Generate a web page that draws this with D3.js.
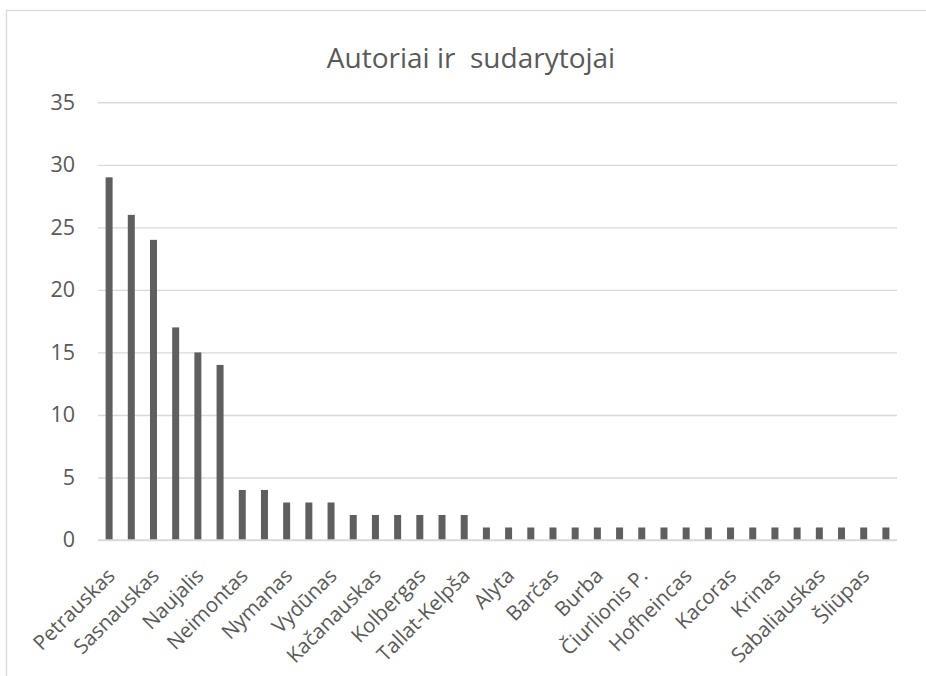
<!DOCTYPE html>
<html>
<head>
<meta charset="utf-8">
<script src="https://cdn.jsdelivr.net/npm/d3@7"></script>
<style>
  html, body { margin: 0; padding: 0; background: #fff; }
  svg { display: block; }
</style>
</head>
<body>
<svg id="chart" width="926" height="676"></svg>
<script>
// Number of works per author / compiler
const authors = [
  "Petrauskas", "Šimkus", "Sasnauskas", "Gruodis", "Naujalis", "Bendorius",
  "Neimontas", "Žilevičius", "Nymanas", "Banaitis", "Vydūnas", "Kuprevičius",
  "Kačanauskas", "Karosas", "Kolbergas", "Račiūnas", "Tallat-Kelpša", "Aleksandravičius",
  "Alyta", "Bacevičius", "Barčas", "Budriūnas", "Burba", "Čiurlionis M. K.",
  "Čiurlionis P.", "Dvarionas", "Hofheincas", "Juzeliūnas", "Kacoras", "Klova",
  "Krinas", "Paulavičius", "Sabaliauskas", "Stankevičius", "Šliūpas", "Žemaitis"
];
const counts = [
  29, 26, 24, 17, 15, 14,
  4, 4, 3, 3, 3, 2,
  2, 2, 2, 2, 2, 1,
  1, 1, 1, 1, 1, 1,
  1, 1, 1, 1, 1, 1,
  1, 1, 1, 1, 1, 1
];
const yTicks = [0, 5, 10, 15, 20, 25, 30, 35];
const title = "Autoriai ir  sudarytojai";

const data = authors.map((name, i) => ({ name, value: counts[i] }));

const svg = d3.select("#chart");
const font = "'Open Sans', sans-serif";
const textColor = "#595959";
const gridColor = "#d9d9d9";
const barColor = "#5f5f5f";

const plot = { left: 98, right: 897, top: 102.3, bottom: 540 };

// Chart area frame
svg.append("rect")
  .attr("x", 6.5).attr("y", 10.5)
  .attr("width", 940).attr("height", 700)
  .attr("fill", "#fff")
  .attr("stroke", gridColor).attr("stroke-width", 1.3);

const x = d3.scaleBand()
  .domain(authors)
  .range([plot.left, plot.right])
  .paddingInner(0.685)
  .paddingOuter(0.3425);

const y = d3.scaleLinear()
  .domain([0, 35])
  .range([plot.bottom, plot.top]);

// Horizontal gridlines and value labels
const yAxis = d3.axisLeft(y)
  .tickValues(yTicks)
  .tickSize(-(plot.right - plot.left))
  .tickPadding(23);

svg.append("g")
  .attr("transform", `translate(${plot.left},0)`)
  .call(yAxis)
  .call(g => g.select(".domain").remove())
  .call(g => g.selectAll(".tick line").attr("stroke", gridColor).attr("stroke-width", 1.4))
  .call(g => g.selectAll(".tick text")
    .attr("fill", textColor)
    .style("font-family", font)
    .style("font-size", "21.5px"));

// Bars
svg.append("g")
  .selectAll("rect")
  .data(data)
  .join("rect")
  .attr("x", d => x(d.name))
  .attr("y", d => y(d.value))
  .attr("width", x.bandwidth())
  .attr("height", d => y(0) - y(d.value))
  .attr("fill", barColor);

// Baseline
svg.append("line")
  .attr("x1", plot.left).attr("x2", plot.right)
  .attr("y1", y(0)).attr("y2", y(0))
  .attr("stroke", gridColor).attr("stroke-width", 1.4);

// Category axis: every second author is labelled
const xAxis = d3.axisBottom(x)
  .tickValues(authors.filter((d, i) => i % 2 === 0))
  .tickSize(0)
  .tickPadding(0);

svg.append("g")
  .attr("transform", `translate(0,${plot.bottom})`)
  .call(xAxis)
  .call(g => g.select(".domain").remove())
  .call(g => g.selectAll(".tick text")
    .attr("fill", textColor)
    .style("font-family", font)
    .style("font-size", "20.5px")
    .attr("text-anchor", "end")
    .attr("dy", null)
    .attr("y", null)
    .attr("transform", "translate(7,37) rotate(-45)"));

// Title
svg.append("text")
  .attr("x", 471)
  .attr("y", 68)
  .attr("text-anchor", "middle")
  .attr("fill", textColor)
  .style("font-family", font)
  .style("font-size", "28px")
  .style("white-space", "pre")
  .attr("xml:space", "preserve")
  .text(title);
</script>
</body>
</html>
